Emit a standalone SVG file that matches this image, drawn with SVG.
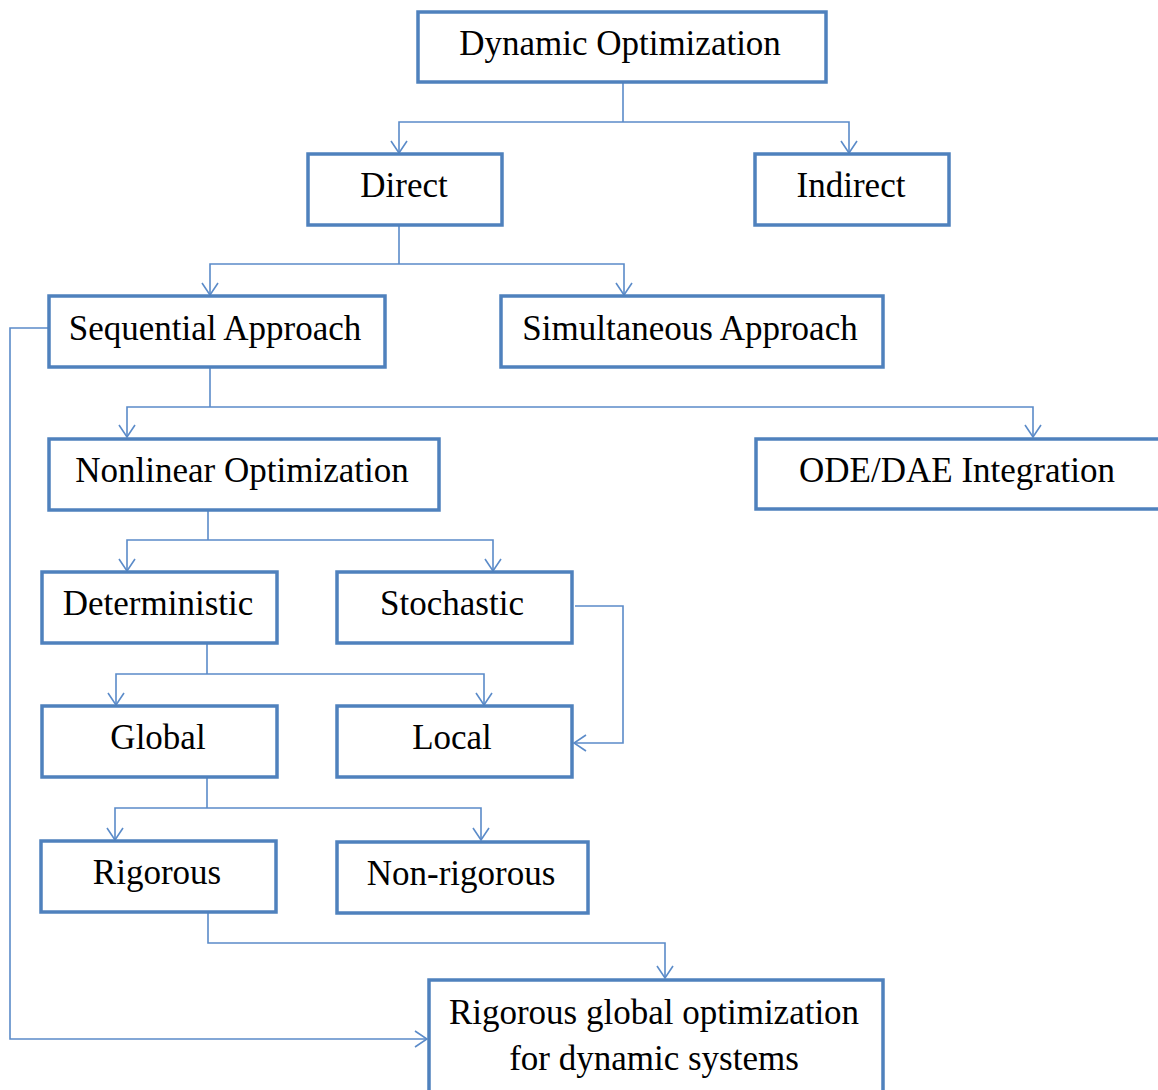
<svg xmlns="http://www.w3.org/2000/svg" width="1158" height="1090" viewBox="0 0 1158 1090">
  <style>
    .box rect { fill: #ffffff; stroke: #4f81bd; stroke-width: 3.5; }
    .box text { font-family: "Liberation Serif", "Times New Roman", serif; font-size: 35px; fill: #000000; text-anchor: middle; }
    .link { fill: none; stroke: #5b8bc9; stroke-width: 1.6; marker-end: url(#arrow); }
    .plain { fill: none; stroke: #5b8bc9; stroke-width: 1.6; }
  </style>
  <defs>
    <marker id="arrow" viewBox="0 0 14 18" refX="13" refY="9" markerWidth="14" markerHeight="18" markerUnits="userSpaceOnUse" orient="auto">
      <path d="M1,1 L13,9 L1,17" fill="none" stroke="#5b8bc9" stroke-width="1.6"/>
    </marker>
  </defs>
  <rect width="1158" height="1090" fill="#ffffff"/>

  <g id="connectors">
    <!-- Dynamic Optimization to Direct / Indirect -->
    <path class="plain" d="M623,82 V122"/>
    <path class="link" d="M623,122 H399 V153"/>
    <path class="link" d="M623,122 H849 V153"/>
    <!-- Direct to Sequential / Simultaneous -->
    <path class="plain" d="M399,225 V264"/>
    <path class="link" d="M399,264 H210 V295"/>
    <path class="link" d="M399,264 H624 V295"/>
    <!-- Sequential to Nonlinear / ODE-DAE -->
    <path class="plain" d="M210,368 V407"/>
    <path class="link" d="M210,407 H127 V437"/>
    <path class="link" d="M210,407 H1033 V437"/>
    <!-- Nonlinear to Deterministic / Stochastic -->
    <path class="plain" d="M208,510 V540"/>
    <path class="link" d="M208,540 H127 V571"/>
    <path class="link" d="M208,540 H493 V571"/>
    <!-- Stochastic to Local -->
    <path class="link" d="M575,606 H623 V743 H574"/>
    <!-- Deterministic to Global / Local -->
    <path class="plain" d="M207,643 V674"/>
    <path class="link" d="M207,674 H116 V705"/>
    <path class="link" d="M207,674 H484 V705"/>
    <!-- Global to Rigorous / Non-rigorous -->
    <path class="plain" d="M207,777 V808"/>
    <path class="link" d="M207,808 H115 V840"/>
    <path class="link" d="M207,808 H481 V840"/>
    <!-- Rigorous to final box -->
    <path class="link" d="M208,912 V943 H665 V978"/>
    <!-- Sequential to final box (left side) -->
    <path class="link" d="M48,328 H10 V1039 H427"/>
  </g>

  <g id="dynamic-optimization" class="box">
    <rect x="418" y="12" width="408" height="70"/>
    <text x="620" y="55">Dynamic Optimization</text>
  </g>
  <g id="direct" class="box">
    <rect x="308" y="154" width="194" height="71"/>
    <text x="404" y="197">Direct</text>
  </g>
  <g id="indirect" class="box">
    <rect x="755" y="154" width="194" height="71"/>
    <text x="851" y="197">Indirect</text>
  </g>
  <g id="sequential" class="box">
    <rect x="49" y="296" width="336" height="71"/>
    <text x="215" y="340">Sequential Approach</text>
  </g>
  <g id="simultaneous" class="box">
    <rect x="501" y="296" width="382" height="71"/>
    <text x="690" y="340">Simultaneous Approach</text>
  </g>
  <g id="nonlinear" class="box">
    <rect x="49" y="439" width="390" height="71"/>
    <text x="242" y="482">Nonlinear Optimization</text>
  </g>
  <g id="ode-dae" class="box">
    <rect x="756" y="439" width="410" height="70"/>
    <text x="957" y="482">ODE/DAE Integration</text>
  </g>
  <g id="deterministic" class="box">
    <rect x="42" y="572" width="235" height="71"/>
    <text x="158" y="615">Deterministic</text>
  </g>
  <g id="stochastic" class="box">
    <rect x="337" y="572" width="235" height="71"/>
    <text x="452" y="615">Stochastic</text>
  </g>
  <g id="global" class="box">
    <rect x="42" y="706" width="235" height="71"/>
    <text x="158" y="749">Global</text>
  </g>
  <g id="local" class="box">
    <rect x="337" y="706" width="235" height="71"/>
    <text x="452" y="749">Local</text>
  </g>
  <g id="rigorous" class="box">
    <rect x="41" y="841" width="235" height="71"/>
    <text x="157" y="884">Rigorous</text>
  </g>
  <g id="non-rigorous" class="box">
    <rect x="337" y="842" width="251" height="71"/>
    <text x="461" y="885">Non-rigorous</text>
  </g>
  <g id="rigorous-global" class="box">
    <rect x="429" y="980" width="454" height="130"/>
    <text x="654" y="1024">Rigorous global optimization</text>
    <text x="654" y="1070">for dynamic systems</text>
  </g>
</svg>
